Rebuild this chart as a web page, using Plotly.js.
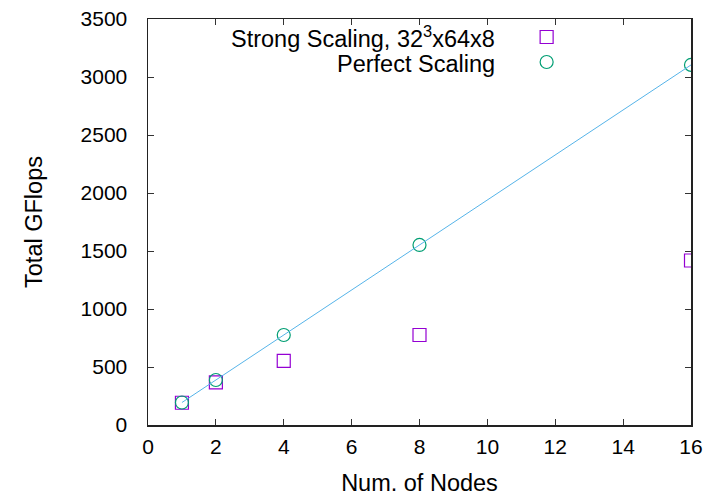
<!DOCTYPE html>
<html>
<head>
<meta charset="utf-8">
<script src="https://cdn.plot.ly/plotly-3.0.1.min.js"></script>
<style>html,body{margin:0;padding:0;background:#fff;}#chart{width:710px;height:496px;}</style>
</head>
<body>
<div id="chart"></div>
<script>
// Data
const nodes = [1, 2, 4, 8, 16];
const strongGflops = [192, 368, 552, 776, 1418];
const perfectGflops = [194, 388, 776, 1552, 3104];
const xTicks = [0, 2, 4, 6, 8, 10, 12, 14, 16];
const yTicks = [0, 500, 1000, 1500, 2000, 2500, 3000, 3500];
const legendLabels = ["Strong Scaling, 32<sup>3</sup>x64x8", "Perfect Scaling"];

const font = "Liberation Sans, Arial, sans-serif";
const violet = "#9400d3", green = "#009e73", blue = "#56b4e9";
const tickSize = 21, titleSize = 23.5;

const traces = [
  {x: nodes, y: strongGflops, mode: "markers", type: "scatter", name: legendLabels[0],
   marker: {symbol: "square-open", size: 13, color: violet, line: {width: 1.2, color: violet}}},
  {x: nodes, y: perfectGflops, mode: "markers", type: "scatter", name: legendLabels[1],
   marker: {symbol: "circle-open", size: 13, color: green, line: {width: 1.2, color: green}}},
  {x: nodes, y: perfectGflops, mode: "lines", type: "scatter", showlegend: false,
   line: {color: blue, width: 1}}
];

const W = 710, H = 496, L = 148, R = 18.5, T = 19, B = 71;
const pw = W - L - R, ph = H - T - B;
const px = v => (v - L) / pw;
const py = v => (H - B - v) / ph;

const layout = {
  width: W, height: H,
  margin: {l: L, r: R, t: T, b: B, pad: 0},
  paper_bgcolor: "#fff", plot_bgcolor: "#fff",
  showlegend: false,
  font: {family: font, size: tickSize, color: "#000"},
  xaxis: {
    range: [0, 16], tickvals: xTicks, ticktext: xTicks.map(String),
    ticks: "inside", ticklen: 6, tickcolor: "#333", tickwidth: 1,
    showline: true, linecolor: "#222", linewidth: 1.5, mirror: "ticks",
    showgrid: false, zeroline: false, ticklabelstandoff: 2,
    tickfont: {family: font, size: tickSize, color: "#000"},
    title: {text: "Num. of Nodes", font: {family: font, size: titleSize, color: "#000"}, standoff: 20}
  },
  yaxis: {
    range: [0, 3500], tickvals: yTicks, ticktext: yTicks.map(String),
    ticks: "inside", ticklen: 6, tickcolor: "#333", tickwidth: 1,
    showline: true, linecolor: "#222", linewidth: 1.5, mirror: "ticks",
    showgrid: false, zeroline: false, ticklabelstandoff: 15,
    tickfont: {family: font, size: tickSize, color: "#000"},
    title: {text: "Total GFlops", font: {family: font, size: titleSize, color: "#000"}, standoff: 31}
  },
  annotations: [
    {xref: "paper", yref: "paper", x: px(497), y: py(37), xanchor: "right", yanchor: "middle",
     text: legendLabels[0], showarrow: false, font: {family: font, size: titleSize, color: "#000"}},
    {xref: "paper", yref: "paper", x: px(497), y: py(64), xanchor: "right", yanchor: "middle",
     text: legendLabels[1], showarrow: false, font: {family: font, size: titleSize, color: "#000"}}
  ],
  shapes: [
    {type: "rect", xref: "paper", yref: "paper", xsizemode: "pixel", ysizemode: "pixel",
     xanchor: px(547), yanchor: py(37), x0: -6.5, x1: 6.5, y0: -6.5, y1: 6.5,
     line: {color: violet, width: 1.2}},
    {type: "circle", xref: "paper", yref: "paper", xsizemode: "pixel", ysizemode: "pixel",
     xanchor: px(547), yanchor: py(62), x0: -6.5, x1: 6.5, y0: -6.5, y1: 6.5,
     line: {color: green, width: 1.2}}
  ]
};

Plotly.newPlot("chart", traces, layout, {displayModeBar: false, staticPlot: true});
</script>
</body>
</html>
